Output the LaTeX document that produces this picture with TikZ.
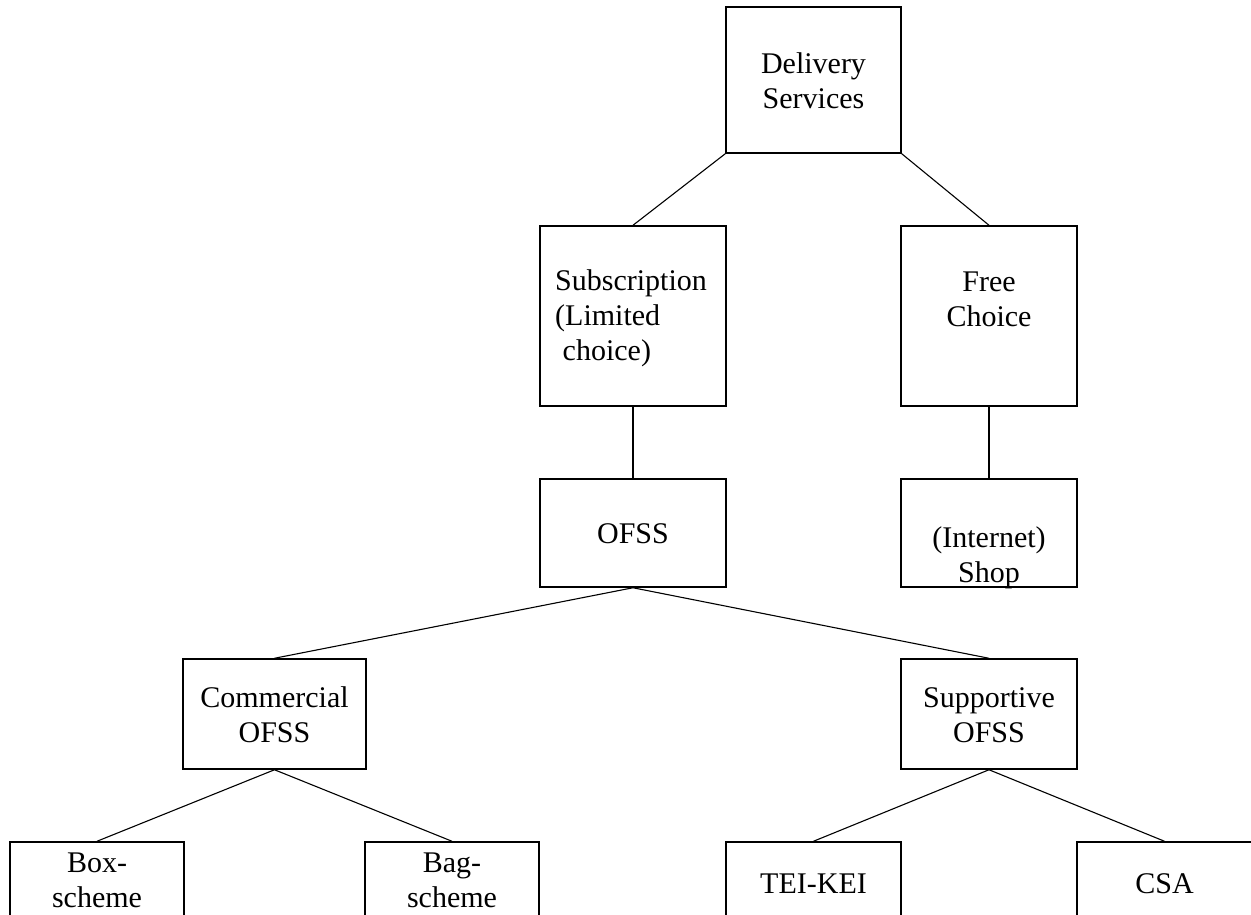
\documentclass[tikz,border=0pt]{standalone}
\usepackage{fontspec}
\setmainfont{Liberation Serif}
\usetikzlibrary{positioning}

\begin{document}
\begin{tikzpicture}[x=1pt,y=-1pt,
  box/.style = {draw, line width=1.5pt, inner sep=0pt},
  txt/.style = {inner sep=0pt, anchor=base, align=center, font=\fontsize{30}{35}\selectfont},
  link/.style = {line width=1.1pt}]
\useasboundingbox (0,0) rectangle (1251,914);
\clip (0,0) rectangle (1251,914);
% boxes
\node[box, minimum width=175pt, minimum height=146pt] (ds) at (813.5,80) {};
\node[box, minimum width=186pt, minimum height=180pt] (sub) at (633,316) {};
\node[box, minimum width=176pt, minimum height=180pt] (free) at (989,316) {};
\node[box, minimum width=186pt, minimum height=108pt] (ofss) at (633,533) {};
\node[box, minimum width=176pt, minimum height=108pt] (shop) at (989,533) {};
\node[box, minimum width=183pt, minimum height=110pt] (com) at (274.5,714) {};
\node[box, minimum width=176pt, minimum height=110pt] (sup) at (989,714) {};
\node[box, minimum width=174pt, minimum height=84pt] (box) at (97,884) {};
\node[box, minimum width=174pt, minimum height=84pt] (bag) at (452,884) {};
\node[box, minimum width=175pt, minimum height=84pt] (tei) at (813.5,884) {};
\node[box, minimum width=175pt, minimum height=84pt] (csa) at (1164.5,884) {};
% texts (base = last line)
\node[txt] (ds-t) at (813.5,108.5) {Delivery\\Services};
\node[txt, align=left, anchor=base west] (sub-t) at (555,360) {Subscription\\(Limited\\~choice)};
\node[txt] (free-t) at (989,326.7) {Free\\Choice};
\node[txt] (ofss-t) at (633,543) {OFSS};
\node[txt] (shop-t) at (989,582) {(Internet)\\Shop};
\node[txt] (com-t) at (274.5,742.7) {Commercial\\OFSS};
\node[txt] (sup-t) at (989,742.5) {Supportive\\OFSS};
\node[txt] (box-t) at (97,907) {Box-\\scheme};
\node[txt] (bag-t) at (452,907) {Bag-\\scheme};
\node[txt] (tei-t) at (813.5,893) {TEI-KEI};
\node[txt] (csa-t) at (1164.5,893) {CSA};
% links
\draw[link] (ds.south west) -- (sub.north);
\draw[link] (ds.south east) -- (free.north);
\draw[link] (sub.south) -- (ofss.north);
\draw[link] (free.south) -- (shop.north);
\draw[link] (ofss.south) -- (com.north);
\draw[link] (ofss.south) -- (sup.north);
\draw[link] (com.south) -- (box.north);
\draw[link] (com.south) -- (bag.north);
\draw[link] (sup.south) -- (tei.north);
\draw[link] (sup.south) -- (csa.north);
\end{tikzpicture}
\end{document}
